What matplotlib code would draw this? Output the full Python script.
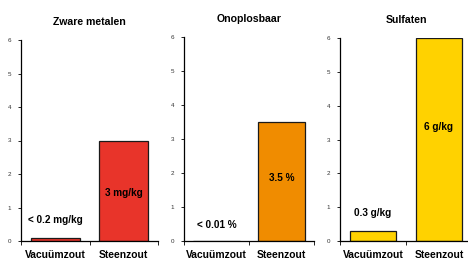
import matplotlib
matplotlib.use("Agg")
import matplotlib.pyplot as plt

plt.rcParams['font.family'] = ['Liberation Sans', 'DejaVu Sans']

# --- DATA ---
categories = ["Vacuümzout", "Steenzout"]
titles = ["Zware metalen", "Onoplosbaar", "Sulfaten"]
zware_metalen = [0.1, 3.0]
onoplosbaar = [0.01, 3.5]
sulfaten = [0.3, 6.0]
labels_zware = ["< 0.2 mg/kg", "3 mg/kg"]
labels_onoplos = ["< 0.01 %", "3.5 %"]
labels_sulfaten = ["0.3 g/kg", "6 g/kg"]
label_heights_zware = [0.63, 1.43]
label_heights_onoplos = [0.47, 1.85]
label_heights_sulfaten = [0.83, 3.37]

colors = ["#E8342A", "#F08C00", "#FFD200"]
series = [zware_metalen, onoplosbaar, sulfaten]
labels = [labels_zware, labels_onoplos, labels_sulfaten]
heights = [label_heights_zware, label_heights_onoplos, label_heights_sulfaten]

W, H = 468, 260
fig = plt.figure(figsize=(W / 100, H / 100), dpi=100)

# axes boxes in pixels: left, right, top (bottom is shared at y=241)
boxes = [(21, 158, 40), (184, 314, 37), (340, 472, 38)]
y0 = 241

for i, (l, r, t) in enumerate(boxes):
    ax = fig.add_axes([l / W, (H - y0) / H, (r - l) / W, (y0 - t) / H])
    ax.bar([0, 1], series[i], width=0.71, color=colors[i],
           edgecolor="#1a1a1a", linewidth=0.9)
    ax.set_xlim(-0.5, 1.5)
    ax.set_ylim(0, 6)
    ax.set_yticks(range(7))
    ax.set_xticks([-0.5, 0.5, 1.5])
    ax.set_xticklabels([])
    ax.tick_params(axis="y", labelsize=4.5, length=2, width=0.6, pad=5,
                   labelcolor="#333333")
    ax.tick_params(axis="x", length=3, width=0.6, direction="out")
    for s in ["top", "right"]:
        ax.spines[s].set_visible(False)
    ax.spines["left"].set_linewidth(0.9)
    ax.spines["bottom"].set_linewidth(0.9)
    ax.set_title(titles[i], fontsize=7.6, fontweight="bold", pad=11)
    for j in range(2):
        ax.text(j, heights[i][j], labels[i][j], ha="center", va="center",
                fontsize=7.2, fontweight="bold")
        ax.text(j, -0.26, categories[j], ha="center", va="top",
                fontsize=7.4, fontweight="bold")

fig.savefig("out.png", dpi=100)
